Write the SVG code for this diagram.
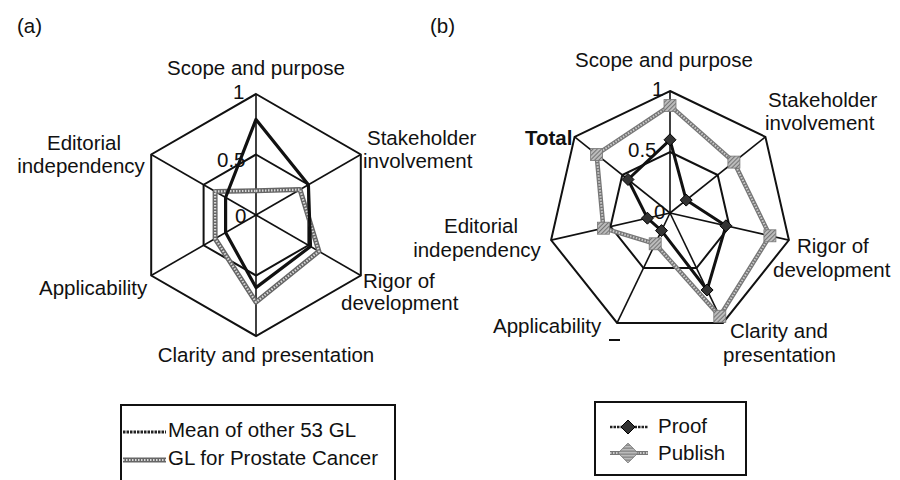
<svg xmlns="http://www.w3.org/2000/svg" width="900" height="480" viewBox="0 0 900 480">
<style>
text{font-family:"Liberation Sans",Arial,sans-serif;font-size:20.5px;fill:#111}
.c{text-anchor:middle}
.b{font-weight:bold}
.grid{fill:none;stroke:#111;stroke-width:2;stroke-linejoin:miter}
.spoke{stroke:#111;stroke-width:1.6}
.mean{fill:none;stroke:#111;stroke-width:3.2;stroke-linejoin:round}
.gbase{fill:none;stroke:#666;stroke-width:5;stroke-linejoin:round}
.ghatch{fill:none;stroke:#d8d8d8;stroke-width:2.2;stroke-dasharray:1.5 1.5;stroke-linejoin:round}
.proof{fill:none;stroke:#111;stroke-width:3;stroke-linejoin:round}
.pubbase{fill:none;stroke:#777;stroke-width:4.5;stroke-linejoin:round}
.pubhatch{fill:none;stroke:#ccc;stroke-width:2;stroke-dasharray:1.5 1.5;stroke-linejoin:round}
</style>
<defs>
<pattern id="hatch" width="3" height="3" patternUnits="userSpaceOnUse" patternTransform="rotate(45)">
<rect width="3" height="3" fill="#bbb"/>
<line x1="0" y1="0" x2="0" y2="3" stroke="#555" stroke-width="1.4"/>
</pattern>
<marker id="dia" markerUnits="userSpaceOnUse" markerWidth="14" markerHeight="14" refX="7" refY="7" orient="0" overflow="visible">
<path d="M7,1 L13,7 L7,13 L1,7Z" fill="#333" stroke="#000" stroke-width="1"/>
</marker>
<marker id="sq" markerUnits="userSpaceOnUse" markerWidth="14" markerHeight="14" refX="7" refY="7" orient="0" overflow="visible">
<rect x="1" y="1" width="12" height="12" fill="url(#hatch)" stroke="#777" stroke-width="0.8"/>
</marker>
<polygon id="pA2" points="256,190.8 300,189.6 318.9,251.3 256,302.1 215.1,238.6 215.1,191.4"/>
<polygon id="pB2" points="670,105.6 733.9,162.1 769.9,235.8 719.8,316.3 655.2,243.8 603.4,228.2 596.6,154.5"/>
</defs>

<text x="17" y="33">(a)</text>
<text x="430" y="33">(b)</text>

<g id="chart-a">
<polygon class="grid" points="256,94 360.8,154.5 360.8,275.5 256,336 151.2,275.5 151.2,154.5"/>
<polygon class="grid" points="256,154.5 308.4,184.75 308.4,245.25 256,275.5 203.6,245.25 203.6,184.75"/>
<g class="spoke">
<line x1="256" y1="215" x2="256" y2="94"/>
<line x1="256" y1="215" x2="360.8" y2="154.5"/>
<line x1="256" y1="215" x2="360.8" y2="275.5"/>
<line x1="256" y1="215" x2="256" y2="336"/>
<line x1="256" y1="215" x2="151.2" y2="275.5"/>
<line x1="256" y1="215" x2="151.2" y2="154.5"/>
</g>
<g id="series-prostate">
<use href="#pA2" class="gbase"/>
<use href="#pA2" class="ghatch"/>
</g>
<polygon id="series-mean" class="mean" points="256,119.4 308.4,184.75 310.5,246.5 256,287.6 225.6,232.5 225.6,197.5"/>
<text x="233" y="99">1</text>
<text x="217" y="167">0.5</text>
<text x="235" y="223">0</text>
</g>

<g id="label-a-scope"><text class="c" x="256" y="75">Scope and purpose</text></g>
<g id="label-a-stake"><text x="367" y="145">Stakeholder</text><text x="363" y="168">involvement</text></g>
<g id="label-a-rigor"><text x="363" y="288">Rigor of</text><text x="341" y="310">development</text></g>
<g id="label-a-clarity"><text class="c" x="266" y="362">Clarity and presentation</text></g>
<g id="label-a-appl"><text x="39" y="295">Applicability</text></g>
<g id="label-a-edit"><text class="c" x="84" y="150">Editorial</text><text class="c" x="81" y="173">independency</text></g>

<g id="legend-a">
<rect x="121" y="405" width="274" height="85" fill="none" stroke="#111" stroke-width="2"/>
<line x1="123" y1="432" x2="166" y2="432" stroke="#222" stroke-width="3" stroke-dasharray="2.5 1"/>
<line x1="123" y1="460" x2="166" y2="460" stroke="#666" stroke-width="5"/>
<line x1="123" y1="460" x2="166" y2="460" stroke="#d8d8d8" stroke-width="2.2" stroke-dasharray="1.5 1.5"/>
<text x="168" y="437">Mean of other 53 GL</text>
<text x="168" y="465">GL for Prostate Cancer</text>
</g>

<g id="chart-b">
<polygon class="grid" points="670,91 765.4,136.9 788.9,240.1 722.9,322.9 617.1,322.9 551.1,240.1 574.6,136.9"/>
<polygon class="grid" points="670,152 717.7,175 729.5,226.6 696.5,268 643.5,268 610.5,226.6 622.3,175"/>
<g class="spoke">
<line x1="670" y1="213" x2="670" y2="91"/>
<line x1="670" y1="213" x2="765.4" y2="136.9"/>
<line x1="670" y1="213" x2="788.9" y2="240.1"/>
<line x1="670" y1="213" x2="722.9" y2="322.9"/>
<line x1="670" y1="213" x2="617.1" y2="322.9"/>
<line x1="670" y1="213" x2="551.1" y2="240.1"/>
<line x1="670" y1="213" x2="574.6" y2="136.9"/>
</g>
<g id="series-publish">
<use href="#pB2" class="pubbase"/>
<use href="#pB2" class="pubhatch" marker-start="url(#sq)" marker-mid="url(#sq)"/>
</g>
<polygon id="series-proof" class="proof" points="670,139.8 686.2,200.1 725.9,225.8 707.1,290 661.5,230.6 647.4,218.2 628,179.5" marker-start="url(#dia)" marker-mid="url(#dia)"/>
<text x="652" y="96">1</text>
<text x="628" y="157">0.5</text>
<text x="654" y="219">0</text>
<line x1="609" y1="340" x2="620" y2="340" stroke="#111" stroke-width="2"/>
</g>

<g id="label-b-scope"><text class="c" x="664" y="67">Scope and purpose</text></g>
<g id="label-b-stake"><text x="768" y="107">Stakeholder</text><text x="765" y="130">involvement</text></g>
<g id="label-b-rigor"><text x="797" y="253">Rigor of</text><text x="773" y="277">development</text></g>
<g id="label-b-clarity"><text x="730" y="338">Clarity and</text><text x="723" y="362">presentation</text></g>
<g id="label-b-appl"><text x="493" y="333">Applicability</text></g>
<g id="label-b-edit"><text class="c" x="481" y="233">Editorial</text><text class="c" x="477" y="257">independency</text></g>
<g id="label-b-total"><text class="b" x="525" y="145">Total</text></g>

<g id="legend-b">
<rect x="595" y="402" width="151" height="73" fill="none" stroke="#111" stroke-width="2"/>
<line x1="610" y1="427" x2="648" y2="427" stroke="#222" stroke-width="2.5" stroke-dasharray="2.5 1"/>
<path d="M628,420 L635,427 L628,434 L621,427Z" fill="#333" stroke="#000"/>
<line x1="610" y1="453" x2="648" y2="453" stroke="#777" stroke-width="4"/>
<line x1="610" y1="453" x2="648" y2="453" stroke="#ccc" stroke-width="1.8" stroke-dasharray="1.5 1.5"/>
<rect x="621" y="446" width="14" height="14" fill="url(#hatch)" stroke="#777" stroke-width="0.8" transform="rotate(45 628 453)"/>
<text x="658" y="433">Proof</text>
<text x="658" y="460">Publish</text>
</g>
</svg>
